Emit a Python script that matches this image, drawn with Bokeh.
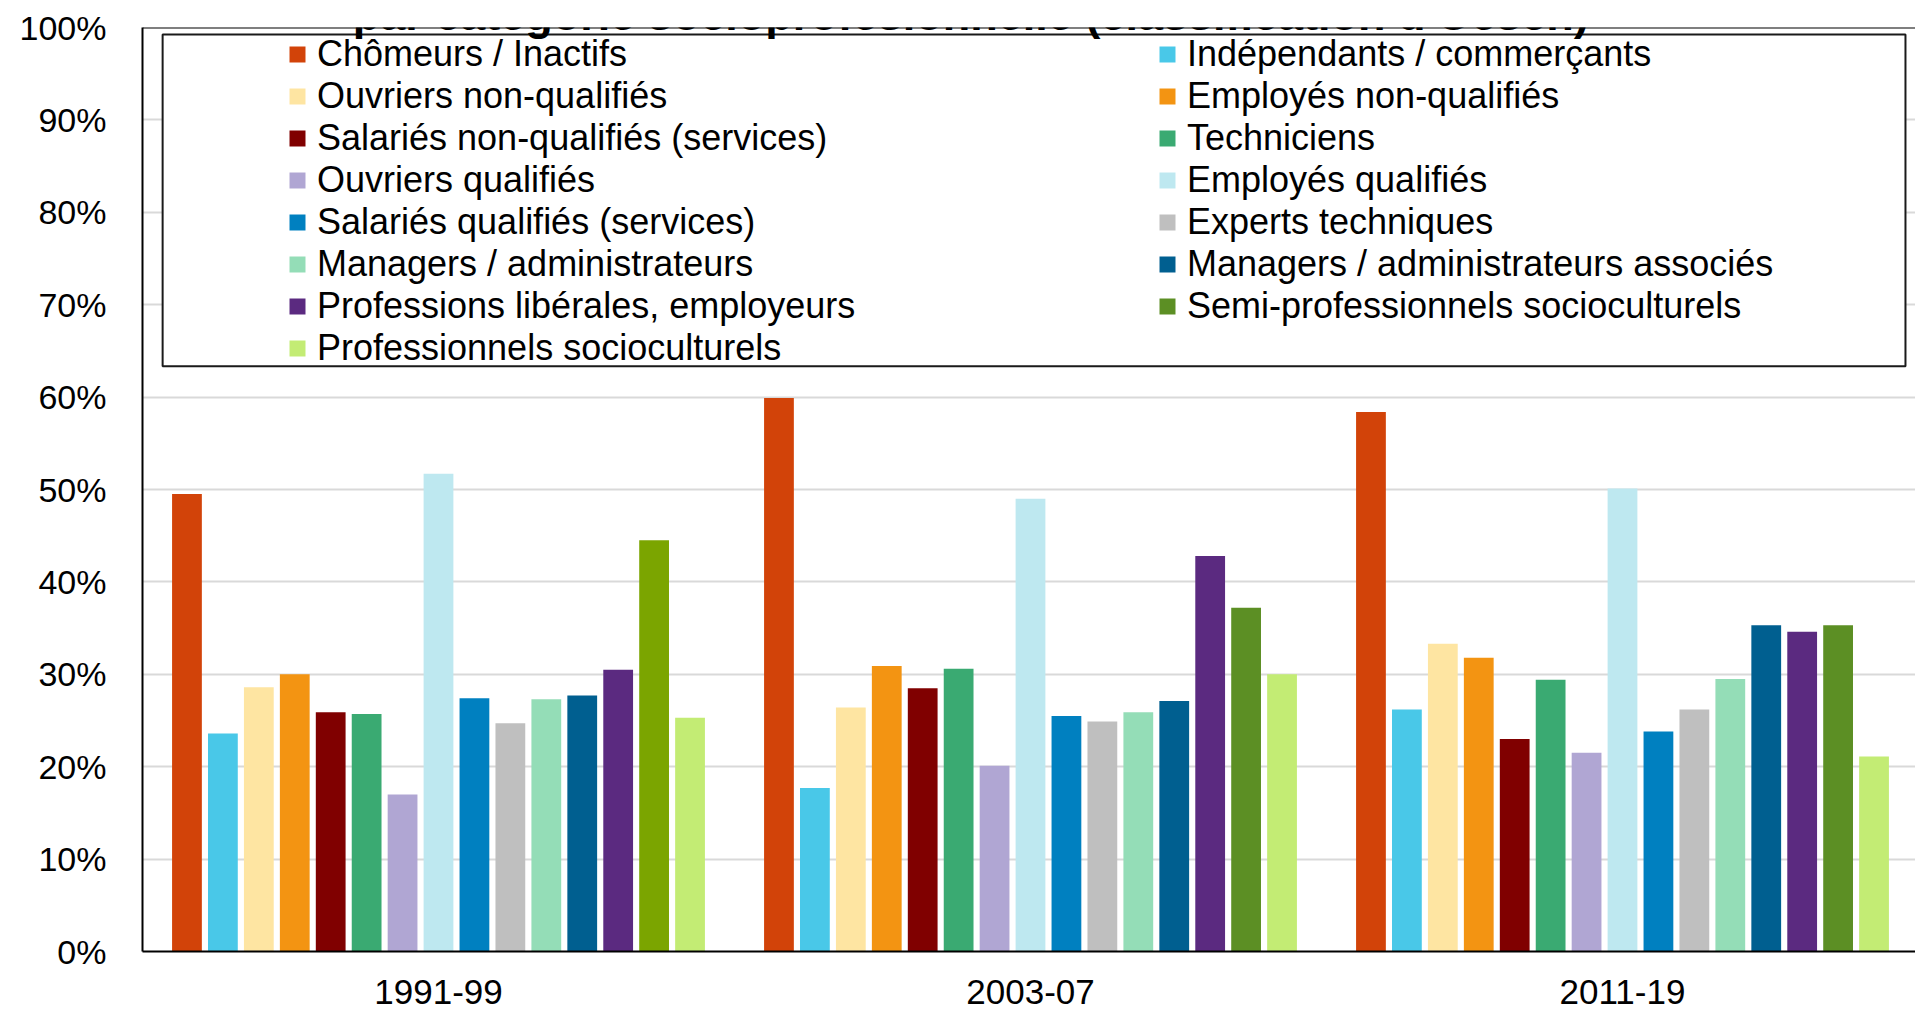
from bokeh.plotting import figure
from bokeh.models import (Range1d, FixedTicker, PrintfTickFormatter, Legend, LegendItem,
                          BoxAnnotation, Label, ColumnDataSource, Span)
from bokeh.embed import file_html
from bokeh.resources import INLINE

# ---- data -------------------------------------------------------------
periods = ["1991-99", "2003-07", "2011-19"]

categories = [
    "Chômeurs / Inactifs",
    "Indépendants / commerçants",
    "Ouvriers non-qualifiés",
    "Employés non-qualifiés",
    "Salariés non-qualifiés (services)",
    "Techniciens",
    "Ouvriers qualifiés",
    "Employés qualifiés",
    "Salariés qualifiés (services)",
    "Experts techniques",
    "Managers / administrateurs",
    "Managers / administrateurs associés",
    "Professions libérales, employeurs",
    "Semi-professionnels socioculturels",
    "Professionnels socioculturels",
]

v_1991_99 = [49.5, 23.6, 28.6, 30.0, 25.9, 25.7, 17.0, 51.7, 27.4, 24.7, 27.3, 27.7, 30.5, 44.5, 25.3]
v_2003_07 = [59.9, 17.7, 26.4, 30.9, 28.5, 30.6, 20.1, 49.0, 25.5, 24.9, 25.9, 27.1, 42.8, 37.2, 30.0]
v_2011_19 = [58.4, 26.2, 33.3, 31.8, 23.0, 29.4, 21.5, 50.1, 23.8, 26.2, 29.5, 35.3, 34.6, 35.3, 21.1]

colors = ["#D24309", "#49C8E8", "#FEE5A2", "#F39412", "#800000", "#3AAA72", "#B0A6D3",
          "#BEE8F0", "#0080C0", "#BFBFBF", "#94DDB7", "#005F90", "#5B2A80", "#5C8F24", "#C3EC74"]
semi_colors = ["#7BA500", "#5C8F24", "#5C8F24"]

y_ticks = [0, 10, 20, 30, 40, 50, 60, 70, 80, 90, 100]

TITLE = "par catégorie socioprofesionnelle (classification d'Oesch)"

# ---- layout constants --------------------------------------------------
FONT = "Liberation Sans"
PX_PER_GROUP = 592
CANVAS_W = 1915
CANVAS_H = 1012
LEFT = 142
TOP = 27
BOTTOM = 61
PITCH = 0.0607
BAR_W = 0.0503

p = figure(width=CANVAS_W, height=CANVAS_H, output_backend="svg",
           toolbar_location=None,
           x_range=Range1d(0, (CANVAS_W - LEFT) / PX_PER_GROUP),
           y_range=Range1d(0, 100), min_border_left=LEFT, min_border_right=0,
           min_border_top=TOP, min_border_bottom=BOTTOM, title=None)
p.outline_line_color = None
p.background_fill_color = "white"
p.border_fill_color = "white"

p.xgrid.visible = False
p.ygrid.ticker = FixedTicker(ticks=y_ticks)
p.ygrid.grid_line_color = "#D9D9D9"
p.ygrid.grid_line_width = 2

# axes
p.yaxis.ticker = FixedTicker(ticks=y_ticks)
p.yaxis.formatter = PrintfTickFormatter(format="%d%%")
p.xaxis.ticker = FixedTicker(ticks=[i + 0.5 for i in range(len(periods))])
p.xaxis.major_label_overrides = {i + 0.5: lab for i, lab in enumerate(periods)}
for ax in (p.xaxis, p.yaxis):
    ax.axis_line_color = "black"
    ax.axis_line_width = 2
    ax.major_tick_out = 0
    ax.major_tick_in = 0
    ax.minor_tick_out = 0
    ax.minor_tick_in = 0
    ax.major_label_text_font = FONT
    ax.major_label_text_color = "black"
p.yaxis.major_label_text_font_size = "34px"
p.yaxis.major_label_standoff = 36
p.xaxis.major_label_text_font_size = "35px"
p.xaxis.major_label_standoff = 28

# top border of plot area
p.add_layout(Span(location=100, dimension="width", line_color="black", line_width=2))

# bars
renderers = []
for k, cat in enumerate(categories):
    vals = [v_1991_99[k], v_2003_07[k], v_2011_19[k]]
    cols = semi_colors if k == 13 else [colors[k]] * 3
    src = ColumnDataSource(dict(
        x=[g + 0.5 + (k - 7) * PITCH for g in range(len(periods))],
        top=vals, color=cols))
    r = p.vbar(x="x", top="top", bottom=0, width=BAR_W, source=src,
               fill_color="color", line_color=None)
    renderers.append(r)

# legend frame
box = BoxAnnotation(left=0.034, right=2.978, top=99.25, bottom=63.35,
                    fill_color="white", fill_alpha=1.0,
                    line_color="#1a1a1a", line_alpha=1.0, line_width=2)
p.add_layout(box)

items = [LegendItem(label=cat, renderers=[renderers[k]], index=(1 if k == 13 else 0))
         for k, cat in enumerate(categories)]
legend = Legend(items=items, orientation="horizontal", ncols=2, location=(145, 582),
                glyph_width=20, glyph_height=20, label_standoff=10, label_width=840,
                label_height=42, spacing=0, padding=0, margin=0,
                border_line_color=None, background_fill_alpha=0,
                label_text_font=FONT, label_text_font_size="36px",
                label_text_color="black")
p.add_layout(legend)

# title (partly cut off at top, as in the reference)
p.add_layout(Label(x=1.399, y=101.4, text=TITLE, text_align="center",
                   text_baseline="alphabetic", text_font=FONT, text_font_size="45px",
                   text_font_style="bold", text_color="black"))

open("out.html", "w").write(file_html(p, INLINE, title="chart"))
